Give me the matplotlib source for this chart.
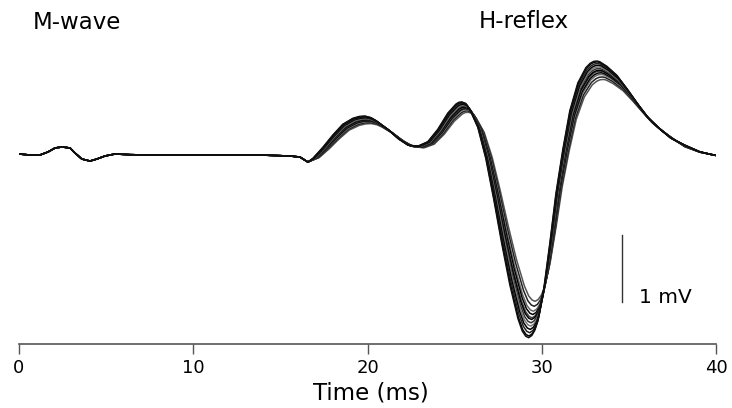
import numpy as np
import matplotlib
matplotlib.use("Agg")
import matplotlib.pyplot as plt

# averaged trace: time (ms), amplitude (mV, baseline = 0)
t_ms = np.array([0.0, 0.63, 1.20, 1.66, 2.07, 2.47, 2.93, 3.21, 3.61, 4.07,
                 4.47, 4.93, 5.51, 6.37, 7.52, 9.24, 11.53, 13.83, 15.55, 16.12,
                 16.58, 16.98, 17.56, 18.13, 18.70, 19.28, 19.65, 19.97, 20.30, 20.60,
                 21.29, 21.86, 22.43, 23.01, 23.58, 24.15, 24.73, 25.19, 25.36, 25.53,
                 25.75, 25.99, 26.45, 26.91, 27.37, 27.83, 28.29, 28.75, 29.00, 29.20,
                 29.37, 29.55, 29.72, 29.89, 30.24, 30.58, 30.93, 31.33, 31.73, 32.19,
                 32.65, 32.90, 33.10, 33.30, 33.45, 33.85, 34.42, 35.00, 35.57, 36.14,
                 36.78, 37.48, 38.21, 39.07, 39.87, 40.0])
mv = np.array([0.0, -0.015, -0.015, 0.03, 0.09, 0.105, 0.09, 0.015, -0.075, -0.105,
               -0.075, -0.03, 0.0, -0.01, -0.015, -0.015, -0.015, -0.015, -0.03, -0.045,
               -0.12, -0.06, 0.09, 0.255, 0.40, 0.48, 0.505, 0.51, 0.49, 0.45,
               0.33, 0.21, 0.12, 0.105, 0.165, 0.33, 0.55, 0.67, 0.695, 0.70,
               0.68, 0.60, 0.36, -0.06, -0.615, -1.21, -1.76, -2.21, -2.38, -2.45,
               -2.47, -2.44, -2.37, -2.25, -1.81, -1.21, -0.54, 0.06, 0.58, 0.955,
               1.16, 1.22, 1.245, 1.25, 1.24, 1.18, 1.06, 0.88, 0.69, 0.51,
               0.36, 0.22, 0.12, 0.03, -0.015, -0.02])

# per-sweep H-reflex size and latency (read from the spread of troughs)
sweep_gain = [0.89, 0.92, 0.95, 0.97, 0.99, 1.00, 1.02, 1.04, 1.06, 1.08, 1.10, 1.11]
sweep_lag = [0.25, 0.20, 0.15, 0.12, 0.08, 0.05, 0.02, 0.0, -0.03, -0.06, -0.10, -0.12]
sweep_col = ["#555555", "#222222", "#666666", "#000000", "#444444", "#000000",
             "#333333", "#777777", "#000000", "#222222", "#000000", "#111111"]

xticks = [0, 10, 20, 30, 40]

fig = plt.figure(figsize=(7.32, 4.08), dpi=100)
ax = fig.add_axes([19/732, 1-344/408, 697/732, 344/408])

h = (t_ms > 16.7) & (t_ms < 38)
for g, lag, c in zip(sweep_gain, sweep_lag, sweep_col):
    x = t_ms + lag*h
    y = np.where(t_ms > 16.7, mv*g, mv)
    ax.plot(x, y, color=c, lw=1.1)

# scale bar 1 mV
ax.plot([34.6, 34.6], [-2.21, -1.21], color="#333333", lw=1)

ax.set_xlim(0, 40)
ax.set_ylim(-(344-154)/67, 154/67)
ax.set_xticks(xticks)
ax.tick_params(axis="x", length=7, width=1, color="#555555", labelsize=13, pad=4)
ax.set_yticks([])
for s in ["top", "left", "right"]:
    ax.spines[s].set_visible(False)
ax.spines["bottom"].set_color("#555555")
ax.spines["bottom"].set_linewidth(1.2)

fig.text(371/732, 1-399/408, "Time (ms)", ha="center", va="baseline", fontsize=16.5)
fig.text(33/732, 1-29/408, "M-wave", ha="left", va="baseline", fontsize=16.5)
fig.text(479/732, 1-28/408, "H-reflex", ha="left", va="baseline", fontsize=16.5)
fig.text(639/732, 1-303/408, "1 mV", ha="left", va="baseline", fontsize=14.5)

fig.savefig("out.png", dpi=100)
